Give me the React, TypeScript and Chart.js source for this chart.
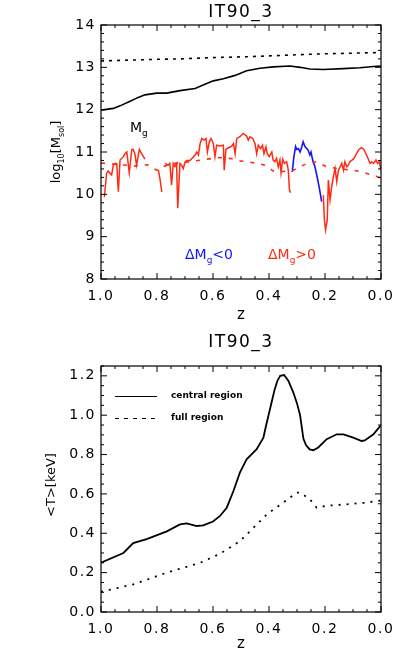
import React, { useEffect, useRef } from 'react';
import { Chart, registerables } from 'chart.js';

Chart.register(...registerables);

const FONT = 'DejaVu Sans';
const panelTitle = 'IT90_3';

// ---------- top panel: log10 masses vs redshift ----------
const mgZ = [1.0, 0.956, 0.932, 0.896, 0.867, 0.843, 0.801, 0.765, 0.718, 0.664, 0.635, 0.599, 0.563, 0.521, 0.48, 0.432, 0.385, 0.325, 0.289, 0.254, 0.206, 0.135, 0.075, 0.027, 0.0];
const mgLog = [11.99, 12.03, 12.09, 12.2, 12.29, 12.35, 12.39, 12.39, 12.45, 12.5, 12.58, 12.68, 12.73, 12.81, 12.92, 12.98, 13.01, 13.03, 13.0, 12.96, 12.95, 12.97, 12.99, 13.02, 13.03];

const totZ = [1.0, 0.8, 0.718, 0.6, 0.48, 0.4, 0.25, 0.2, 0.0];
const totLog = [13.15, 13.19, 13.2, 13.23, 13.25, 13.27, 13.31, 13.32, 13.35];

// dMg > 0 (red), null = gap
const redZ = [
  0.988, 0.98, 0.974, 0.968, 0.962, 0.956, 0.95, 0.944, 0.938, 0.932, 0.92, 0.914, 0.908, 0.899, 0.89, 0.885, 0.879, 0.873, 0.863, 0.855, 0.843,
  0.82,
  0.795, 0.789, 0.783,
  0.777,
  0.771, 0.76, 0.754, 0.748, 0.742, 0.736, 0.73, 0.726, 0.718, 0.712, 0.706, 0.7, 0.694, 0.682, 0.664, 0.658, 0.652, 0.646, 0.64, 0.632,
  0.625, 0.62, 0.613, 0.607, 0.599, 0.593, 0.587, 0.575, 0.563, 0.56, 0.554, 0.545, 0.533, 0.527, 0.521, 0.515, 0.504, 0.492, 0.48, 0.474,
  0.468, 0.458, 0.45, 0.444, 0.438, 0.43, 0.423, 0.418, 0.411, 0.406, 0.399, 0.39, 0.385, 0.379, 0.373, 0.367, 0.361, 0.357, 0.351, 0.345,
  0.337, 0.331, 0.327, 0.323,
  0.26,
  0.206, 0.202, 0.198, 0.192, 0.188, 0.182, 0.176, 0.17, 0.164, 0.158, 0.152, 0.146, 0.14, 0.134, 0.129, 0.122, 0.117, 0.111, 0.099, 0.093,
  0.087, 0.079, 0.069, 0.061, 0.054, 0.045, 0.039, 0.033, 0.027, 0.018, 0.012, 0.006, 0.0,
];
const redLog = [
  9.93, 10.5, 10.55, 10.5, 10.46, 10.69, 10.73, 10.73, 10.06, 10.81, 10.89, 10.96, 11.0, 10.51, 11.06, 11.06, 10.96, 10.69, 11.06, 10.96, 10.83,
  null,
  10.57, 10.35, 10.06,
  null,
  10.73, 10.69, 10.73, 10.22, 10.73, 10.66, 10.73, 9.67, 10.73, 10.69, 10.61, 10.76, 10.8, 10.8, 10.93, 11.0, 10.93, 11.2, 11.32, 11.28,
  11.32, 11.0, 11.24, 11.32, 11.2, 10.89, 11.16, 11.14, 11.16, 10.57, 11.06, 11.1, 11.14, 11.2, 10.96, 11.32, 11.36, 11.44, 11.38, 11.28,
  11.36, 11.32, 11.2, 10.96, 11.16, 11.08, 11.16, 10.96, 11.12, 10.96, 10.89, 11.0, 10.81, 10.77, 10.85, 10.65, 10.81, 10.51, 10.83, 10.73,
  10.77, 10.57, 10.1, 10.04,
  null,
  9.98, 9.39, 9.16, 9.39, 10.34, 9.87, 10.18, 10.42, 10.61, 10.3, 10.57, 10.65, 10.73, 10.57, 10.77, 10.65, 10.69, 10.77, 10.83, 10.89,
  10.97, 11.06, 11.1, 11.06, 10.96, 10.83, 10.73, 10.77, 10.73, 10.81, 10.73, 10.77, 10.57,
];

// dMg < 0 (blue)
const blueZ = [0.317, 0.311, 0.305, 0.301, 0.295, 0.289, 0.283, 0.278, 0.271, 0.265, 0.26, 0.254, 0.25, 0.244, 0.236, 0.227, 0.22, 0.212];
const blueLog = [10.53, 10.89, 11.13, 11.06, 11.08, 11.0, 11.12, 11.24, 11.12, 11.08, 11.04, 10.93, 11.0, 10.81, 10.65, 10.38, 10.14, 9.83];

// smoothed (red dashed)
const avgZ = [1.0, 0.932, 0.88, 0.834, 0.811, 0.793, 0.775, 0.754, 0.682, 0.623, 0.575, 0.529, 0.504, 0.48, 0.438, 0.411, 0.385, 0.361, 0.313, 0.265, 0.23, 0.194, 0.146, 0.099, 0.063, 0.015, 0.0];
const avgLog = [10.74, 10.7, 10.67, 10.7, 10.6, 10.56, 10.66, 10.72, 10.77, 10.83, 10.87, 10.84, 10.79, 10.77, 10.73, 10.68, 10.55, 10.53, 10.57, 10.73, 10.77, 10.65, 10.6, 10.57, 10.52, 10.42, 10.38];

// ---------- bottom panel: <T> vs redshift ----------
const tcZ = [1.0, 0.92, 0.885, 0.837, 0.765, 0.718, 0.694, 0.658, 0.635, 0.6, 0.575, 0.551, 0.527, 0.504, 0.48, 0.444, 0.42, 0.41, 0.4, 0.39, 0.38, 0.37, 0.36, 0.346, 0.331, 0.313, 0.3, 0.289, 0.283, 0.277, 0.268, 0.255, 0.242, 0.224, 0.194, 0.158, 0.134, 0.099, 0.069, 0.058, 0.027, 0.0];
const tcKeV = [0.25, 0.3, 0.35, 0.37, 0.41, 0.445, 0.45, 0.437, 0.44, 0.46, 0.488, 0.53, 0.615, 0.708, 0.776, 0.827, 0.886, 0.95, 1.01, 1.07, 1.13, 1.175, 1.2, 1.204, 1.175, 1.115, 1.06, 1.0, 0.94, 0.88, 0.848, 0.826, 0.822, 0.836, 0.878, 0.903, 0.903, 0.886, 0.869, 0.872, 0.903, 0.95];

const tfZ = [1.0, 0.885, 0.765, 0.646, 0.575, 0.504, 0.468, 0.408, 0.349, 0.301, 0.289, 0.254, 0.23, 0.194, 0.123, 0.051, 0.0];
const tfKeV = [0.103, 0.14, 0.2, 0.25, 0.296, 0.36, 0.41, 0.496, 0.556, 0.607, 0.607, 0.573, 0.53, 0.54, 0.547, 0.556, 0.567];

const legendLabels = ['central region', 'full region'];

const RED = '#ff2a14';
const BLUE = '#1414ff';

const pts = (xs: number[], ys: (number | null)[]) => xs.map((x, i) => ({ x, y: ys[i] }));

type Part = { t: string; sub?: boolean };

function partsWidth(ctx: CanvasRenderingContext2D, parts: Part[], size: number) {
  let w = 0;
  for (const p of parts) {
    ctx.font = `${p.sub ? Math.round(size * 0.62) : size}px "${FONT}"`;
    w += ctx.measureText(p.t).width;
  }
  return w;
}

function drawParts(ctx: CanvasRenderingContext2D, parts: Part[], x: number, y: number, size: number, color: string, center = false) {
  ctx.fillStyle = color;
  ctx.textBaseline = 'alphabetic';
  ctx.textAlign = 'left';
  let cx = center ? x - partsWidth(ctx, parts, size) / 2 : x;
  for (const p of parts) {
    ctx.font = `${p.sub ? Math.round(size * 0.62) : size}px "${FONT}"`;
    ctx.fillText(p.t, cx, p.sub ? y + size * 0.28 : y);
    cx += ctx.measureText(p.t).width;
  }
}

function framePlugin(opts: {
  yStart: number; yMinor: number; yCount: number; yMajorEvery: number;
  texts: (ctx: CanvasRenderingContext2D, chart: any) => void;
}) {
  return {
    id: 'frame',
    beforeDraw(chart: any) {
      (chart.ctx as any).letterSpacing = '1.5px';
    },
    afterDraw(chart: any) {
      const ctx: CanvasRenderingContext2D = chart.ctx;
      const { left, right, top, bottom } = chart.chartArea;
      const xs = chart.scales.x;
      const ys = chart.scales.y;
      ctx.save();
      (ctx as any).letterSpacing = '0px';
      ctx.strokeStyle = '#000';
      ctx.lineWidth = 1.2;
      ctx.strokeRect(left, top, right - left, bottom - top);
      ctx.beginPath();
      for (let i = 0; i <= 20; i++) {
        const p = xs.getPixelForValue(i * 0.05);
        const L = i % 4 === 0 ? 6 : 3;
        ctx.moveTo(p, bottom); ctx.lineTo(p, bottom - L);
        ctx.moveTo(p, top); ctx.lineTo(p, top + L);
      }
      for (let i = 0; i <= opts.yCount; i++) {
        const p = ys.getPixelForValue(opts.yStart + i * opts.yMinor);
        const L = i % opts.yMajorEvery === 0 ? 6 : 3;
        ctx.moveTo(left, p); ctx.lineTo(left + L, p);
        ctx.moveTo(right, p); ctx.lineTo(right - L, p);
      }
      ctx.lineWidth = 1;
      ctx.stroke();
      opts.texts(ctx, chart);
      ctx.restore();
    },
  };
}

function titleAndZ(ctx: CanvasRenderingContext2D, titleY: number, zY: number) {
  ctx.fillStyle = '#000';
  ctx.textAlign = 'center';
  ctx.textBaseline = 'middle';
  (ctx as any).letterSpacing = '1.5px';
  ctx.font = `17px "${FONT}"`;
  ctx.fillText(panelTitle, 241, titleY);
  (ctx as any).letterSpacing = '0px';
  ctx.font = `15px "${FONT}"`;
  ctx.fillText('z', 241, zY);
}

function baseScales(yMin: number, yMax: number, yStep: number, yFmt: (v: number) => string, xH: number) {
  return {
    x: {
      type: 'linear',
      min: 0,
      max: 1,
      reverse: true,
      grid: { display: false, drawTicks: false },
      border: { display: false },
      ticks: {
        stepSize: 0.2,
        autoSkip: false,
        maxRotation: 0,
        padding: 9,
        color: '#000',
        font: { family: FONT, size: 14 },
        callback: (v: any) => Number(v).toFixed(1),
      },
      afterFit: (s: any) => { s.height = xH; },
    },
    y: {
      type: 'linear',
      min: yMin,
      max: yMax,
      grid: { display: false, drawTicks: false },
      border: { display: false },
      ticks: {
        stepSize: yStep,
        includeBounds: false,
        autoSkip: false,
        padding: 5,
        color: '#000',
        font: { family: FONT, size: 14 },
        callback: (v: any) => yFmt(Number(v)),
      },
      afterFit: (s: any) => { s.width = 101; },
    },
  };
}

function line(data: any[], color: string, width: number, dash: number[] = []) {
  return {
    data,
    showLine: true,
    borderColor: color,
    backgroundColor: color,
    borderWidth: width,
    borderDash: dash,
    pointRadius: 0,
    spanGaps: false,
    tension: 0,
    fill: false,
  };
}

function topConfig(): any {
  return {
    type: 'scatter',
    data: {
      datasets: [
        line(pts(totZ, totLog), '#000', 1.6, [3, 5]),
        line(pts(mgZ, mgLog), '#000', 1.6),
        line(pts(avgZ, avgLog), RED, 1.6, [4, 7]),
        line(pts(redZ, redLog), RED, 1.5),
        line(pts(blueZ, blueLog), BLUE, 1.6),
      ],
    },
    options: {
      responsive: false,
      animation: false,
      devicePixelRatio: 1,
      layout: { padding: { top: 25, right: 30, left: 0, bottom: 0 } },
      plugins: { legend: { display: false }, tooltip: { enabled: false }, title: { display: false } },
      scales: baseScales(8, 14, 1, (v) => String(Math.round(v)), 53),
    },
    plugins: [
      framePlugin({
        yStart: 8, yMinor: 0.2, yCount: 30, yMajorEvery: 5,
        texts: (ctx) => {
          titleAndZ(ctx, 13, 315);
          ctx.save();
          ctx.translate(56, 152);
          ctx.rotate(-Math.PI / 2);
          drawParts(ctx, [{ t: 'log' }, { t: '10', sub: true }, { t: '[M' }, { t: 'sol', sub: true }, { t: ']' }], 0, 4, 13, '#000', true);
          ctx.restore();
          drawParts(ctx, [{ t: 'M' }, { t: 'g', sub: true }], 130, 132, 14, '#000');
          drawParts(ctx, [{ t: 'ΔM' }, { t: 'g', sub: true }, { t: '<0' }], 185, 259, 14, BLUE);
          drawParts(ctx, [{ t: 'ΔM' }, { t: 'g', sub: true }, { t: '>0' }], 268, 259, 14, RED);
        },
      }),
    ],
  };
}

function bottomConfig(): any {
  return {
    type: 'scatter',
    data: {
      datasets: [
        line(pts(tfZ, tfKeV), '#000', 1.8, [2, 6]),
        line(pts(tcZ, tcKeV), '#000', 1.8),
      ],
    },
    options: {
      responsive: false,
      animation: false,
      devicePixelRatio: 1,
      layout: { padding: { top: 34, right: 30, left: 0, bottom: 0 } },
      plugins: { legend: { display: false }, tooltip: { enabled: false }, title: { display: false } },
      scales: baseScales(0, 1.25, 0.2, (v) => v.toFixed(1), 52),
    },
    plugins: [
      framePlugin({
        yStart: 0, yMinor: 0.05, yCount: 25, yMajorEvery: 4,
        texts: (ctx) => {
          titleAndZ(ctx, 11, 312);
          ctx.save();
          ctx.translate(51, 153);
          ctx.rotate(-Math.PI / 2);
          drawParts(ctx, [{ t: '<T>[keV]' }], 0, 4, 13, '#000', true);
          ctx.restore();
          // legend
          ctx.strokeStyle = '#000';
          ctx.lineWidth = 1;
          ctx.setLineDash([]);
          ctx.beginPath();
          ctx.moveTo(115, 64.5); ctx.lineTo(157, 64.5);
          ctx.stroke();
          ctx.setLineDash([4, 5]);
          ctx.beginPath();
          ctx.moveTo(115, 86.5); ctx.lineTo(157, 86.5);
          ctx.stroke();
          ctx.setLineDash([]);
          ctx.fillStyle = '#000';
          ctx.textAlign = 'left';
          ctx.textBaseline = 'middle';
          ctx.font = `bold 9px "${FONT}"`;
          ctx.fillText(legendLabels[0], 171, 63.5);
          ctx.fillText(legendLabels[1], 171, 85.5);
        },
      }),
    ],
  };
}

export default function App() {
  const topRef = useRef<HTMLCanvasElement>(null);
  const botRef = useRef<HTMLCanvasElement>(null);
  useEffect(() => {
    const c1 = new Chart(topRef.current as HTMLCanvasElement, topConfig());
    const c2 = new Chart(botRef.current as HTMLCanvasElement, bottomConfig());
    return () => {
      c1.destroy();
      c2.destroy();
    };
  }, []);
  return (
    <div style={{ position: 'absolute', left: 0, top: 0, width: 411, height: 664, background: '#fff' }}>
      <canvas ref={topRef} width={411} height={332} style={{ position: 'absolute', left: 0, top: 0, width: 411, height: 332 }} />
      <canvas ref={botRef} width={411} height={332} style={{ position: 'absolute', left: 0, top: 332, width: 411, height: 332 }} />
    </div>
  );
}
